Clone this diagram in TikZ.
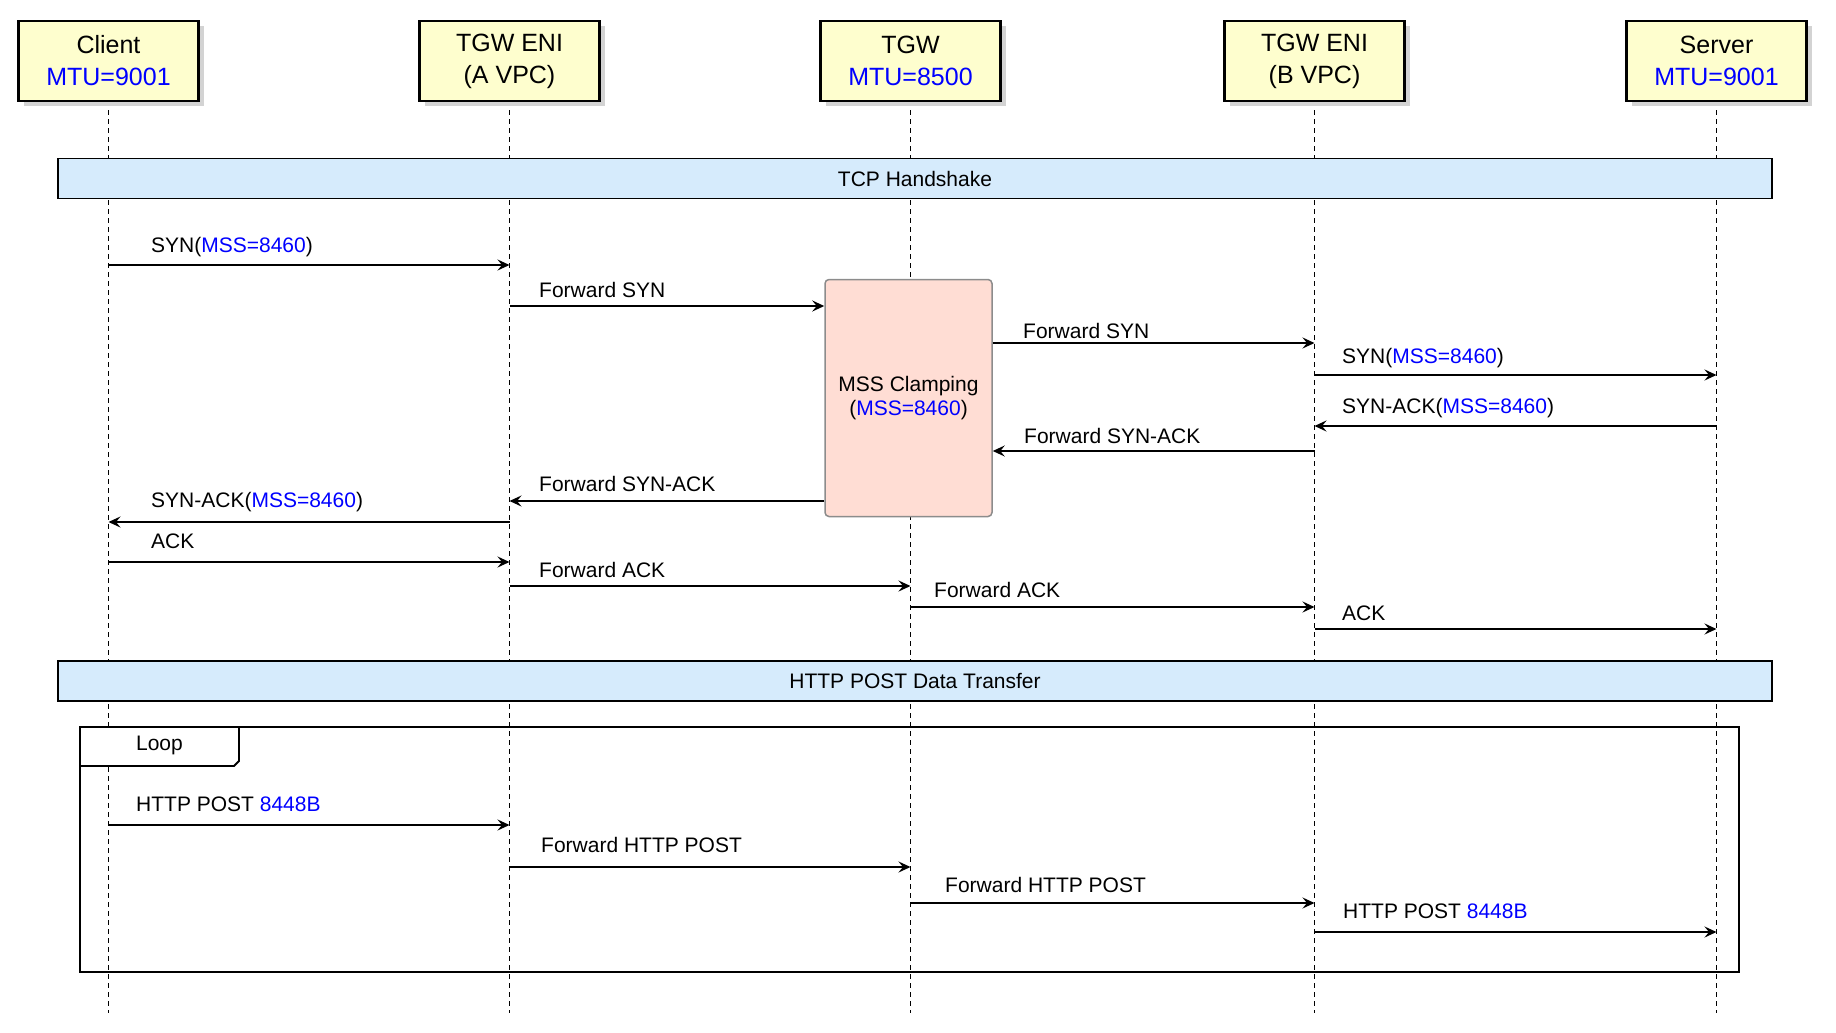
\documentclass[tikz,border=0pt]{standalone}
\usepackage{fontspec}
\setmainfont{Liberation Sans}
\usetikzlibrary{arrows.meta, positioning, shadows}

\definecolor{headfill}{HTML}{FEFECE}
\definecolor{barfill}{HTML}{D6EBFC}
\definecolor{clampfill}{HTML}{FFDDD4}
\definecolor{clampline}{HTML}{8C8C8C}
\definecolor{mtublue}{HTML}{0000FF}

\tikzset{
  actor/.style={draw, line width=2.8pt, fill=headfill, minimum width=180pt, minimum height=80pt, align=center, font=\fontsize{25}{32}\selectfont, drop shadow={shadow xshift=5pt, shadow yshift=-5pt, opacity=0.35}},
  lifeline/.style={line width=1.6pt, dash pattern=on 5pt off 4pt},
  phase/.style={draw, line width=1.8pt, fill=barfill, minimum width=1714pt, minimum height=40pt, font=\fontsize{21}{24}\selectfont},
  clamp/.style={draw=clampline, line width=1.5pt, fill=clampfill, rounded corners=4pt, minimum width=167pt, minimum height=237pt, align=center, font=\fontsize{21}{24}\selectfont},
  msg/.style={line width=1.8pt, -{Stealth[length=12pt, width=11pt, inset=4.5pt]}},
  lbl/.style={anchor=base west, inner sep=0pt, font=\fontsize{21}{24}\selectfont},
}

\begin{document}
\begin{tikzpicture}[x=1pt, y=-1pt]
\useasboundingbox (0,0) rectangle (1836,1033);

% participants
\node [actor] (client) at (108.5,61) {Client\\\textcolor{mtublue}{MTU=9001}};
\node [actor] (enia) at (509.5,61) {TGW ENI\\(A VPC)};
\node [actor] (tgw) at (910.5,61) {TGW\\\textcolor{mtublue}{MTU=8500}};
\node [actor] (enib) at (1314.5,61) {TGW ENI\\(B VPC)};
\node [actor] (server) at (1716.5,61) {Server\\\textcolor{mtublue}{MTU=9001}};

% lifelines
\draw [lifeline] ([yshift=-8pt]client.south) -- (client |- 0,1013);
\draw [lifeline] ([yshift=-8pt]enia.south) -- (enia |- 0,1013);
\draw [lifeline] ([yshift=-8pt]tgw.south) -- (tgw |- 0,1013);
\draw [lifeline] ([yshift=-8pt]enib.south) -- (enib |- 0,1013);
\draw [lifeline] ([yshift=-8pt]server.south) -- (server |- 0,1013);

% phases
\node [phase] (tcp) at (915,178.5) {TCP Handshake};
\node [phase] (http) at (915,681) {HTTP POST Data Transfer};

% loop frame
\draw [line width=1.8pt] (80,727) rectangle (1739,972);
\draw [line width=1.8pt, fill=white] (80,727) -- (80,766) -- (234,766) -- (239,761) -- (239,727) -- cycle;
\node [inner sep=0pt, font=\fontsize{21}{24}\selectfont] (looplbl) at (159.5,745) {Loop};

% clamping box
\node [clamp] (mss) at (908.5,398) {MSS Clamping\\(\textcolor{mtublue}{MSS=8460})};

% handshake
\draw [msg] (client |- 0,265) -- (enia |- 0,265);
\node [lbl] (syna) at (151,252) {SYN(\textcolor{mtublue}{MSS=8460})};
\draw [msg] (enia |- 0,306) -- (mss.west |- 0,306);
\node [lbl] (fsyna) at (539,297) {Forward SYN};
\draw [msg] (mss.east |- 0,343) -- (enib |- 0,343);
\node [lbl] (fsynb) at (1023,338) {Forward SYN};
\draw [msg] (enib |- 0,375) -- (server |- 0,375);
\node [lbl] (synb) at (1342,363) {SYN(\textcolor{mtublue}{MSS=8460})};
\draw [msg] (server |- 0,426) -- (enib |- 0,426);
\node [lbl] (synackb) at (1342,413) {SYN-ACK(\textcolor{mtublue}{MSS=8460})};
\draw [msg] (enib |- 0,451) -- (mss.east |- 0,451);
\node [lbl] (fsynackb) at (1024,443) {Forward SYN-ACK};
\draw [msg] (mss.west |- 0,501) -- (enia |- 0,501);
\node [lbl] (fsynacka) at (539,491) {Forward SYN-ACK};
\draw [msg] (enia |- 0,522) -- (client |- 0,522);
\node [lbl] (synacka) at (151,507) {SYN-ACK(\textcolor{mtublue}{MSS=8460})};
\draw [msg] (client |- 0,562) -- (enia |- 0,562);
\node [lbl] (acka) at (151,548) {ACK};
\draw [msg] (enia |- 0,586) -- (tgw |- 0,586);
\node [lbl] (facka) at (539,577) {Forward ACK};
\draw [msg] (tgw |- 0,607) -- (enib |- 0,607);
\node [lbl] (fackb) at (934,597) {Forward ACK};
\draw [msg] (enib |- 0,629) -- (server |- 0,629);
\node [lbl] (ackb) at (1342,620) {ACK};

% data transfer
\draw [msg] (client |- 0,825) -- (enia |- 0,825);
\node [lbl] (posta) at (136,811) {HTTP POST \textcolor{mtublue}{8448B}};
\draw [msg] (enia |- 0,867) -- (tgw |- 0,867);
\node [lbl] (fposta) at (541,852) {Forward HTTP POST};
\draw [msg] (tgw |- 0,903) -- (enib |- 0,903);
\node [lbl] (fpostb) at (945,892) {Forward HTTP POST};
\draw [msg] (enib |- 0,932) -- (server |- 0,932);
\node [lbl] (postb) at (1343,918) {HTTP POST \textcolor{mtublue}{8448B}};
\end{tikzpicture}
\end{document}
